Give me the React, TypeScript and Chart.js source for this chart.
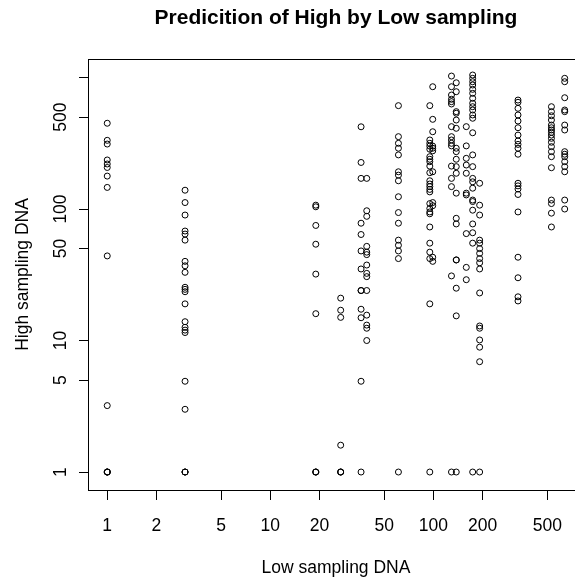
import React, { useEffect, useRef } from 'react';
import { Chart, registerables } from 'chart.js';

Chart.register(...registerables);

const chartTitle = 'Predicition of High by Low sampling';
const xAxisTitle = 'Low sampling DNA';
const yAxisTitle = 'High sampling DNA';

const xTickValues = [1, 2, 5, 10, 20, 50, 100, 200, 500];
const xTickLabels = ['1', '2', '5', '10', '20', '50', '100', '200', '500'];
const yTickValues = [1, 5, 10, 50, 100, 500, 1000];
const yTickLabels = ['1', '5', '10', '50', '100', '500', ''];

// x-axis range (log), y-axis range (log)
const xRange = [0.773, 826];
const yRange = [0.73, 1383];

// Low sampling DNA levels (x) and the High sampling DNA values observed at each (y)
const lowLevels = [1, 3, 19, 27, 36, 39, 61, 95, 99, 129, 138, 159, 174, 192, 330, 529, 638];

const highAt1 = [449, 333, 312, 236, 220, 207, 178, 146, 44, 3.2, 1, 1, 1, 1];
const highAt3 = [139, 112, 90, 68, 64.5, 58, 40, 37, 33, 25.4, 24.5, 23.5, 19, 13.9, 12.6, 12, 11.5, 4.9, 3, 1, 1, 1];
const highAt19 = [107, 104, 75, 54, 32, 16, 1, 1, 1];
const highAt27 = [21, 17, 15, 1.6, 1, 1, 1];
const highAt36 = [422, 226, 171, 78, 64, 48, 35, 24, 24, 17.3, 14.9, 4.9, 1];
const highAt39 = [171, 97, 88, 52, 47, 45, 37.5, 32.4, 30.6, 24, 15.6, 13.1, 12.4, 10];
const highAt61 = [611, 355, 316, 290, 258, 192, 181, 164, 124, 94, 78, 58, 53, 48, 42, 1];
const highAt95 = [611, 335, 316, 301, 285, 250, 239, 229, 212, 189, 164, 155, 148, 141, 135, 110, 101, 95, 92, 73, 55, 47, 42, 19, 1];
const highAt99 = [851, 481, 387, 301, 290, 277, 192, 112, 106, 43, 40];
const highAt129 = [1026, 851, 736, 683, 655, 629, 423, 355, 335, 316, 302, 212, 171, 148, 31, 1];
const highAt138 = [912, 780, 550, 535, 475, 411, 290, 273, 239, 210, 187, 132, 85, 77, 41, 41, 25, 15.4, 1];
const highAt159 = [423, 302, 243, 216, 187, 132, 128, 65, 36, 29];
const highAt174 = [1045, 986, 929, 877, 813, 758, 695, 637, 600, 566, 519, 490, 380, 258, 210, 171, 161, 144, 117, 114, 98, 77, 66, 55, 1];
const highAt192 = [157, 107, 90, 58, 55, 50, 46, 42, 39, 35, 23, 12.9, 12.4, 10.1, 8.9, 6.9, 1];
const highAt330 = [674, 648, 583, 519, 467, 415, 365, 329, 310, 290, 261, 157, 150, 142, 129, 95, 43, 30, 21.5, 20];
const highAt529 = [600, 550, 512, 475, 435, 415, 399, 383, 365, 345, 322, 298, 273, 250, 206, 117, 110, 93, 73];
const highAt638 = [986, 929, 702, 566, 550, 435, 399, 273, 261, 250, 229, 210, 192, 117, 100];

const highByLevel = [
  highAt1, highAt3, highAt19, highAt27, highAt36, highAt39, highAt61, highAt95, highAt99,
  highAt129, highAt138, highAt159, highAt174, highAt192, highAt330, highAt529, highAt638,
];

const FONT = '"Liberation Sans", Arial, Helvetica, sans-serif';

const boxPlugin = {
  id: 'rBox',
  afterDraw(chart: any) {
    const { ctx, chartArea: a } = chart;
    ctx.save();
    ctx.strokeStyle = '#000';
    ctx.lineWidth = 1;
    ctx.strokeRect(Math.round(a.left) - 0.5, Math.round(a.top) + 0.5, Math.round(a.right - a.left) + 1, Math.round(a.bottom - a.top));
    ctx.restore();
  },
};

export default function App() {
  const canvasRef = useRef<HTMLCanvasElement | null>(null);

  useEffect(() => {
    if (!canvasRef.current) return;
    const points: { x: number; y: number }[] = [];
    lowLevels.forEach((lv, i) => {
      highByLevel[i].forEach((h) => points.push({ x: lv, y: h }));
    });

    Chart.defaults.font.family = FONT;
    Chart.defaults.color = '#000';

    const chart = new Chart(canvasRef.current, {
      type: 'scatter',
      data: {
        datasets: [
          {
            data: points,
            pointStyle: 'circle',
            pointRadius: 3,
            pointHoverRadius: 3,
            pointBorderWidth: 1,
            pointBorderColor: '#000',
            pointBackgroundColor: 'rgba(0,0,0,0)',
            showLine: false,
          },
        ],
      },
      options: {
        animation: false,
        responsive: false,
        devicePixelRatio: 1,
        events: [],
        layout: { padding: { top: 0, left: 0, right: 7, bottom: 0 } },
        plugins: {
          legend: { display: false },
          tooltip: { enabled: false },
          title: {
            display: true,
            text: chartTitle,
            fullSize: false,
            color: '#000',
            font: { family: FONT, size: 21, weight: 'bold' },
            padding: { top: 5.4, bottom: 28.4 },
          },
        },
        scales: {
          x: {
            type: 'logarithmic',
            position: 'bottom',
            min: xRange[0],
            max: xRange[1],
            bounds: 'data',
            afterBuildTicks: (scale: any) => {
              scale.ticks = xTickValues.map((value) => ({ value }));
            },
            afterFit: (scale: any) => {
              scale.height = 90;
            },
            ticks: {
              autoSkip: false,
              maxRotation: 0,
              minRotation: 0,
              padding: 15.5,
              color: '#000',
              font: { family: FONT, size: 17.5 },
              callback: (_v: any, i: number) => xTickLabels[i],
            },
            grid: {
              display: true,
              drawOnChartArea: false,
              drawTicks: true,
              tickLength: 10,
              color: '#000',
              lineWidth: 1,
            },
            border: { display: false },
            title: {
              display: true,
              text: xAxisTitle,
              color: '#000',
              font: { family: FONT, size: 17.5 },
              padding: { top: 0, bottom: 1.5 },
            },
          },
          y: {
            type: 'logarithmic',
            position: 'left',
            min: yRange[0],
            max: yRange[1],
            bounds: 'data',
            afterBuildTicks: (scale: any) => {
              scale.ticks = yTickValues.map((value) => ({ value }));
            },
            afterFit: (scale: any) => {
              scale.width = 89;
            },
            ticks: {
              autoSkip: false,
              minRotation: 90,
              maxRotation: 90,
              crossAlign: 'center',
              padding: 3.5,
              color: '#000',
              font: { family: FONT, size: 17.5 },
              callback: (_v: any, i: number) => yTickLabels[i],
            },
            grid: {
              display: true,
              drawOnChartArea: false,
              drawTicks: true,
              tickLength: 10,
              color: '#000',
              lineWidth: 1,
            },
            border: { display: false },
            title: {
              display: true,
              text: yAxisTitle,
              color: '#000',
              font: { family: FONT, size: 17.5 },
              padding: { top: 12.5, bottom: 0 },
            },
          },
        },
      } as any,
      plugins: [boxPlugin],
    });

    return () => chart.destroy();
  }, []);

  return (
    <div
      style={{
        position: 'absolute',
        left: 0,
        top: 0,
        width: 575,
        height: 580,
        overflow: 'hidden',
        background: '#fff',
      }}
    >
      <canvas ref={canvasRef} width={590} height={580} style={{ display: 'block', width: 590, height: 580 }} />
    </div>
  );
}
